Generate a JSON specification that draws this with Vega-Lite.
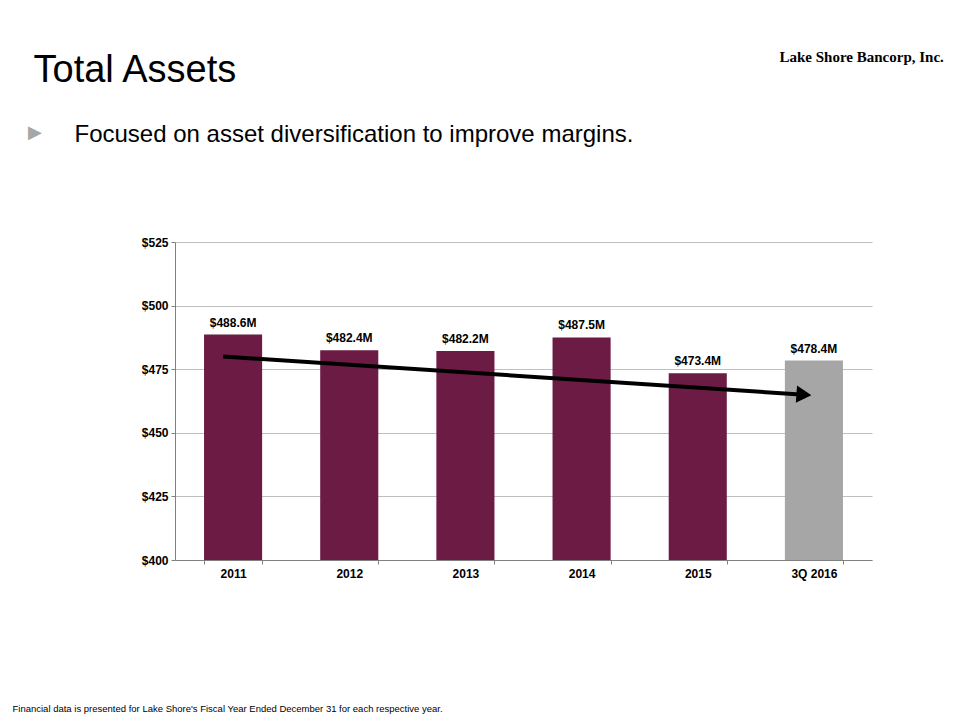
{
  "$schema": "https://vega.github.io/schema/vega-lite/v6.json",
  "width": 697,
  "height": 318,
  "autosize": {"type": "none"},
  "padding": {"left": 175, "top": 242, "right": 88, "bottom": 160},
  "background": "white",
  "title": {
    "text": "▶",
    "anchor": "start",
    "frame": "group",
    "dx": -147,
    "offset": -93,
    "font": "DejaVu Sans",
    "fontSize": 18,
    "fontWeight": "normal",
    "color": "#A6A6A6"
  },
  "config": {
    "view": {"stroke": null},
    "axis": {
      "labelFont": "Liberation Sans",
      "labelFontSize": 12,
      "labelFontWeight": "bold",
      "labelColor": "#000000",
      "titleColor": "#000000",
      "domainColor": "#808080",
      "tickColor": "#808080",
      "gridColor": "#BFBFBF",
      "gridWidth": 1
    }
  },
  "datasets": {
    "assets": [
      {"period": "2011", "assets": 488.6, "label": "$488.6M", "basis": "Fiscal year"},
      {"period": "2012", "assets": 482.4, "label": "$482.4M", "basis": "Fiscal year"},
      {"period": "2013", "assets": 482.2, "label": "$482.2M", "basis": "Fiscal year"},
      {"period": "2014", "assets": 487.5, "label": "$487.5M", "basis": "Fiscal year"},
      {"period": "2015", "assets": 473.4, "label": "$473.4M", "basis": "Fiscal year"},
      {"period": "3Q 2016", "assets": 478.4, "label": "$478.4M", "basis": "Year to date"}
    ],
    "trend": [
      {"period": "2011", "trend": 480, "part": "start"},
      {"period": "3Q 2016", "trend": 465, "part": "end"}
    ]
  },
  "layer": [
    {
      "data": {"name": "assets"},
      "mark": {"type": "bar", "clip": true},
      "encoding": {
        "x": {
          "field": "period",
          "type": "nominal",
          "sort": null,
          "scale": {
            "domain": ["2011", "2012", "2013", "2014", "2015", "3Q 2016"],
            "paddingInner": 0.5,
            "paddingOuter": 0.25
          },
          "axis": {
            "orient": "bottom",
            "labelAngle": 0,
            "tickBand": "extent",
            "tickSize": 4,
            "labelPadding": 4,
            "grid": false,
            "title": "Financial data is presented for Lake Shore's  Fiscal Year Ended December 31 for each respective year.",
            "titleFont": "Liberation Sans",
            "titleFontSize": 9.5,
            "titleFontWeight": "normal",
            "titleAlign": "left",
            "titleAnchor": "start",
            "titleBaseline": "alphabetic",
            "titleX": -163,
            "titleY": 151
          }
        },
        "y": {
          "field": "assets",
          "type": "quantitative",
          "scale": {"domain": [400, 525], "zero": false, "nice": false},
          "axis": {
            "orient": "left",
            "values": [400, 425, 450, 475, 500, 525],
            "format": "$d",
            "tickSize": 4,
            "labelPadding": 3,
            "grid": true,
            "title": "Lake Shore Bancorp, Inc.",
            "titleFont": "Liberation Serif",
            "titleFontSize": 15,
            "titleFontWeight": "bold",
            "titleAngle": 0,
            "titleAlign": "left",
            "titleAnchor": "start",
            "titleBaseline": "alphabetic",
            "titleX": 604,
            "titleY": -181
          }
        },
        "color": {
          "field": "basis",
          "type": "nominal",
          "scale": {"domain": ["Fiscal year", "Year to date"], "range": ["#6B1B44", "#A6A6A6"]},
          "legend": null
        }
      }
    },
    {
      "data": {"name": "assets"},
      "mark": {
        "type": "text",
        "baseline": "bottom",
        "dy": -5,
        "font": "Liberation Sans",
        "fontSize": 12,
        "fontWeight": "bold",
        "color": "#000000"
      },
      "encoding": {
        "x": {
          "field": "period",
          "type": "nominal",
          "sort": null,
          "axis": {
            "orient": "top",
            "labels": false,
            "ticks": false,
            "domain": false,
            "grid": false,
            "title": "Total Assets",
            "titleFont": "Liberation Sans",
            "titleFontSize": 38,
            "titleFontWeight": "normal",
            "titleAlign": "left",
            "titleAnchor": "start",
            "titleBaseline": "alphabetic",
            "titleX": -142,
            "titleY": -161
          }
        },
        "y": {
          "field": "assets",
          "type": "quantitative",
          "axis": {
            "orient": "right",
            "labels": false,
            "ticks": false,
            "domain": false,
            "grid": false,
            "title": "Focused on asset diversification to improve margins.",
            "titleFont": "Liberation Sans",
            "titleFontSize": 24,
            "titleFontWeight": "normal",
            "titleAngle": 0,
            "titleAlign": "left",
            "titleAnchor": "start",
            "titleBaseline": "alphabetic",
            "titleX": -798,
            "titleY": -101
          }
        },
        "text": {"field": "label"}
      }
    },
    {
      "data": {"name": "trend"},
      "mark": {"type": "line", "color": "#000000", "strokeWidth": 4, "strokeCap": "butt", "xOffset": -10},
      "encoding": {
        "x": {"field": "period", "type": "nominal", "sort": null, "axis": null},
        "y": {"field": "trend", "type": "quantitative", "axis": null}
      }
    },
    {
      "data": {"name": "trend"},
      "transform": [{"filter": "datum.part === 'end'"}],
      "mark": {"type": "point", "shape": "triangle-right", "filled": true, "color": "#000000", "opacity": 1, "size": 300, "angle": 4, "xOffset": -10},
      "encoding": {
        "x": {"field": "period", "type": "nominal", "sort": null, "axis": null},
        "y": {"field": "trend", "type": "quantitative", "axis": null}
      }
    }
  ],
  "resolve": {"axis": {"x": "independent", "y": "independent"}}
}
